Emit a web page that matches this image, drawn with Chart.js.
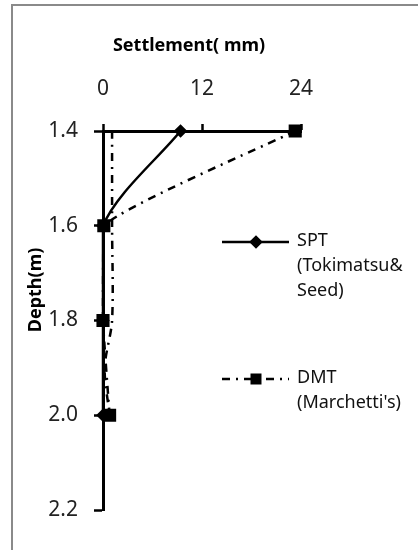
<!DOCTYPE html>
<html>
<head>
<meta charset="utf-8">
<script src="https://cdn.jsdelivr.net/npm/chart.js@4.4.1/dist/chart.umd.min.js"></script>
<style>
  html, body { margin: 0; padding: 0; background: #fff; }
  #wrap { width: 418px; height: 550px; position: relative; }
</style>
</head>
<body>
<div id="wrap"><canvas id="chart" width="418" height="550"></canvas></div>
<script>
// Settlement (mm) against depth (m)
const depths = [1.4, 1.6, 1.8, 2.0]
const sptSettlement = [9.4, 0, 0, 0]
const dmtSettlement = [23.3, 0.1, 0, 0.8]
// second DMT trace (no legend entry)
const dmtTraceDepths = [1.4, 1.6, 1.8, 1.9, 2.0]
const dmtTraceSettlement = [1.1, 1.1, 1.1, 0.2, 0.8]
const xTicks = [0, 12, 24]
const yTicks = [1.4, 1.6, 1.8, 2.0, 2.2]

const FONT = "'Noto Sans', 'Open Sans', sans-serif"
const DASH_DOT = [8, 6, 2, 6]

const toPoints = (xs, ys) => xs.map((x, i) => ({ x: x, y: ys[i] }))

// border, titles and legend
const decorations = {
  id: "decorations",
  afterDraw(chart) {
    const ctx = chart.ctx
    ctx.save()

    ctx.strokeStyle = "#8a8a8a"
    ctx.lineWidth = 2
    ctx.strokeRect(12, 5, 430, 560)

    ctx.fillStyle = "#000"
    ctx.font = "bold 18px " + FONT
    ctx.textAlign = "center"
    ctx.textBaseline = "middle"
    ctx.fillText("Settlement( mm)", 189, 46)

    ctx.save()
    ctx.translate(36, 290)
    ctx.rotate(-Math.PI / 2)
    ctx.fillText("Depth(m)", 0, 0)
    ctx.restore()

    // legend
    const entries = [
      { ds: chart.data.datasets[0], y: 242, lines: ["SPT", "(Tokimatsu&", "Seed)"] },
      { ds: chart.data.datasets[1], y: 379, lines: ["DMT", "(Marchetti's)"] },
    ]
    entries.forEach((e) => {
      ctx.strokeStyle = "#000"
      ctx.lineWidth = 2.5
      ctx.setLineDash(e.ds.borderDash || [])
      ctx.beginPath()
      ctx.moveTo(222, e.y)
      ctx.lineTo(289, e.y)
      ctx.stroke()
      ctx.setLineDash([])
      Chart.helpers.drawPoint(ctx, {
        pointStyle: e.ds.pointStyle,
        radius: e.ds.pointStyle === "rect" ? 6 : 5,
        rotation: 0,
        borderWidth: 1,
      }, 256, e.y)
      ctx.fillStyle = "#000"
      ctx.fill()

      ctx.fillStyle = "#111"
      ctx.font = "18px " + FONT
      ctx.textAlign = "left"
      e.lines.forEach((t, i) => ctx.fillText(t, 297, e.y - 1 + i * 25))
    })
    ctx.restore()
  },
}

new Chart(document.getElementById("chart"), {
  type: "scatter",
  data: {
    datasets: [
      {
        label: "SPT (Tokimatsu& Seed)",
        data: toPoints(sptSettlement, depths),
        showLine: true,
        borderColor: "#000",
        backgroundColor: "#000",
        borderWidth: 2.5,
        pointStyle: "rectRot",
        pointRadius: 5,
        tension: 0.3,
      },
      {
        label: "DMT (Marchetti's)",
        data: toPoints(dmtSettlement, depths),
        showLine: true,
        borderColor: "#000",
        backgroundColor: "#000",
        borderWidth: 2.5,
        borderDash: DASH_DOT,
        pointStyle: "rect",
        pointRadius: 7.5,
        tension: 0.15,
      },
      {
        label: "DMT trace",
        data: toPoints(dmtTraceSettlement, dmtTraceDepths),
        showLine: true,
        borderColor: "#000",
        borderWidth: 2.5,
        borderDash: DASH_DOT,
        pointRadius: 0,
        tension: 0.3,
      },
    ],
  },
  options: {
    responsive: false,
    animation: false,
    clip: false,
    layout: { padding: { left: 0, top: 0, right: 117, bottom: 40 } },
    plugins: {
      legend: { display: false },
      tooltip: { enabled: false },
    },
    scales: {
      x: {
        type: "linear",
        position: "top",
        min: 0,
        max: 24,
        afterBuildTicks: (s) => { s.ticks = xTicks.map((v) => ({ value: v })) },
        afterFit: (s) => { s.height = 131 },
        ticks: { color: "#222", padding: 22, font: { family: FONT, size: 21 } },
        grid: { drawOnChartArea: false, drawTicks: true, tickLength: 7, tickWidth: 2.5, color: "#000" },
        border: { display: true, color: "#000", width: 3 },
      },
      y: {
        type: "linear",
        reverse: true,
        min: 1.4,
        max: 2.2,
        afterBuildTicks: (s) => { s.ticks = yTicks.map((v) => ({ value: v })) },
        afterFit: (s) => { s.width = 103 },
        ticks: {
          color: "#222",
          padding: 16,
          font: { family: FONT, size: 21 },
          callback: (v) => Number(v).toFixed(1),
        },
        grid: { drawOnChartArea: false, drawTicks: true, tickLength: 9, tickWidth: 2.5, color: "#000" },
        border: { display: true, color: "#000", width: 3 },
      },
    },
  },
  plugins: [decorations],
})
</script>
</body>
</html>
